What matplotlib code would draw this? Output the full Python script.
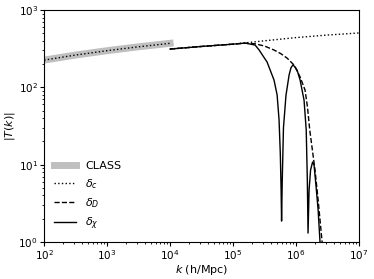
import matplotlib
matplotlib.use('Agg')
import matplotlib.pyplot as plt
import numpy as np

# CLASS reference (large scales)
k_class = [1e2, 3e2, 1e3, 3e3, 1e4]
T_class = [225, 260, 298, 333, 371]

# delta_c : low-k part matched to CLASS, high-k part from the fluid run
k_c = [1e2, 3e2, 1e3, 3e3, 1e4, np.nan, 1e4, 3.16e4, 1e5, 3.16e5, 1e6, 3.16e6, 1e7]
T_c = [225, 260, 298, 333, 371, np.nan, 313, 338, 362, 400, 440, 475, 505]

# delta_D
k_D = [1e4, 3.16e4, 1e5, 1.55e5, 2.24e5, 3.16e5, 4.47e5, 5.75e5, 7.2e5, 9.3e5,
       1.16e6, 1.39e6, 1.52e6, 1.65e6, 2.0e6, 2.24e6, 2.59e6, 2.69e6]
T_D = [313, 338, 362, 372, 366, 342, 304, 272, 239, 194,
       136, 92, 55, 28, 8.5, 3.5, 1.0, 0.6]

# delta_chi
k_chi = [1e4, 3.16e4, 1e5, 1.55e5, 2.24e5, 2.59e5, 3.47e5, 4.47e5, 5.0e5, 5.37e5,
         5.62e5, 5.78e5, 5.89e5, 6.03e5, 6.31e5, 6.92e5, 7.76e5, 8.32e5, 8.91e5, 9.55e5,
         1.04e6, 1.16e6, 1.34e6, 1.45e6, 1.51e6, 1.55e6, 1.61e6, 1.70e6, 1.83e6, 1.93e6,
         2.07e6, 2.24e6, 2.40e6, 2.51e6]
T_chi = [313, 338, 362, 374, 352, 304, 212, 124, 80, 38,
         14, 5, 1.86, 6, 30, 79, 145, 180, 194, 185,
         167, 124, 68, 28, 6.3, 1.3, 4.7, 8.5, 10.8, 9.9,
         5.4, 2.6, 1.0, 0.6]

plt.rcParams['font.size'] = 8

fig = plt.figure(figsize=(3.74, 2.79), dpi=100)
ax = fig.add_axes([0.118, 0.133, 0.842, 0.831])

ax.loglog(k_class, T_class, color='0.75', lw=5, label='CLASS')
ax.loglog(k_c, T_c, color='k', ls=':', lw=1, label=r'$\delta_c$')
ax.loglog(k_D, T_D, color='k', ls='--', lw=1, label=r'$\delta_D$')
ax.loglog(k_chi, T_chi, color='k', ls='-', lw=1, label=r'$\delta_\chi$')

ax.set_xlim(1e2, 1e7)
ax.set_ylim(1, 1e3)
ax.tick_params(which='major', length=3, pad=1.5, labelsize=7.5)
ax.tick_params(which='minor', length=1.5)
ax.set_xlabel(r'$k$ (h/Mpc)', labelpad=1)
ax.set_ylabel(r'$|T(k)|$', labelpad=1)
ax.legend(loc='lower left', frameon=False, fontsize=8)

fig.savefig('out.png', dpi=100)
